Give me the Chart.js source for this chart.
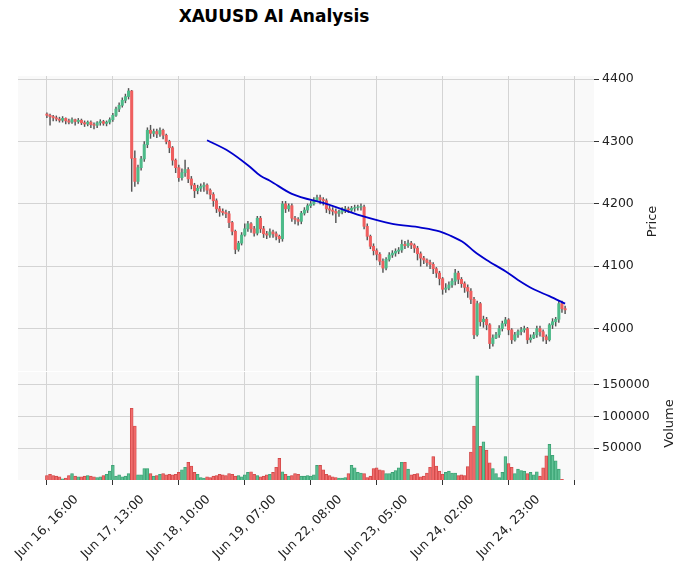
<!DOCTYPE html>
<html><head><meta charset="utf-8">
<script src="https://cdn.jsdelivr.net/npm/chart.js@4/dist/chart.umd.min.js"></script>
<style>
body{margin:0;width:686px;height:574px;background:#fff;position:relative;overflow:hidden;font-family:"DejaVu Sans",sans-serif}
#t{position:absolute;left:0;width:548px;top:6px;text-align:center;font-weight:bold;font-size:17px;color:#000}
canvas{position:absolute;left:0}
.yt{position:absolute;font-size:13px;color:#222;transform:rotate(-90deg);transform-origin:center;white-space:nowrap}
</style></head><body>
<div id="t">XAUUSD AI Analysis</div>
<canvas id="cp" style="top:0"></canvas>
<canvas id="cv" style="top:371px"></canvas>
<div class="yt" style="left:631px;top:214px;width:40px;text-align:center">Price</div>
<div class="yt" style="left:642px;top:416px;width:52px;text-align:center">Volume</div>
<script>
const tickLabels=["Jun 16, 16:00","Jun 17, 13:00","Jun 18, 10:00","Jun 19, 07:00","Jun 22, 08:00","Jun 23, 05:00","Jun 24, 02:00","Jun 24, 23:00",""];
const closes=[4342,4340,4338,4336,4334,4337,4333,4331,4335,4332,
4334,4330,4328,4331,4327,4326,4330,4332,4329,4331,
4335,4342,4352,4358,4366,4372,4381,4273,4236,4258,
4272,4295,4318,4313,4316,4312,4318,4310,4300,4290,
4270,4258,4242,4250,4255,4240,4230,4221,4225,4228,
4230,4222,4215,4205,4192,4188,4186,4184,4170,4156,
4127,4137,4150,4160,4168,4160,4153,4177,4160,4152,
4150,4155,4152,4148,4144,4200,4192,4197,4177,4175,
4172,4185,4190,4197,4200,4205,4210,4207,4205,4192,
4190,4188,4185,4187,4190,4192,4190,4193,4194,4195,
4195,4164,4148,4132,4125,4119,4108,4097,4111,4118,
4121,4124,4126,4135,4133,4137,4134,4129,4120,4113,
4110,4106,4103,4096,4089,4080,4063,4065,4070,4076,
4089,4079,4072,4066,4060,4047,3990,4040,4011,4015,
4006,3976,3985,3990,4000,4008,4014,3998,3982,3990,
3995,3998,4000,3982,3985,3990,4000,3995,3987,3982,
4006,4011,4015,4040,4032,4030];
const opens=[4344,4342,4340,4338,4336,4334,4337,4333,4331,4335,
4332,4334,4330,4328,4331,4327,4326,4330,4332,4329,
4331,4335,4342,4352,4358,4366,4372,4381,4273,4236,
4258,4272,4295,4318,4313,4316,4312,4318,4310,4300,
4290,4270,4258,4242,4250,4255,4240,4230,4221,4225,
4228,4230,4222,4215,4205,4192,4188,4186,4184,4170,
4156,4127,4137,4150,4160,4168,4160,4153,4177,4160,
4152,4150,4155,4152,4148,4144,4200,4192,4197,4177,
4175,4172,4185,4190,4197,4200,4205,4210,4207,4205,
4192,4190,4188,4185,4187,4190,4192,4190,4193,4194,
4195,4195,4164,4148,4132,4125,4119,4108,4097,4111,
4118,4121,4124,4126,4135,4133,4137,4134,4129,4120,
4113,4110,4106,4103,4096,4089,4080,4063,4065,4070,
4076,4089,4079,4072,4066,4060,4047,3990,4040,4011,
4015,4006,3976,3985,3990,4000,4008,4014,3998,3982,
3990,3995,3998,4000,3982,3985,3990,4000,3995,3987,
3982,4006,4011,4015,4040,4032];
const highs=[4346,4344,4342,4341,4339,4340,4338,4336,4338,4336,
4337,4336,4333,4333,4333,4330,4332,4335,4334,4333,
4338,4345,4355,4362,4370,4376,4385,4382,4285,4262,
4276,4300,4322,4326,4320,4320,4322,4320,4312,4302,
4292,4272,4262,4256,4270,4258,4244,4233,4230,4232,
4234,4232,4224,4218,4208,4196,4192,4190,4188,4172,
4158,4140,4154,4168,4172,4170,4164,4180,4180,4164,
4156,4160,4158,4155,4150,4204,4204,4200,4200,4180,
4178,4188,4194,4200,4204,4210,4214,4214,4210,4208,
4196,4194,4192,4190,4194,4196,4195,4196,4198,4198,
4200,4198,4168,4150,4136,4128,4122,4112,4114,4122,
4125,4128,4130,4142,4140,4142,4140,4136,4132,4123,
4116,4112,4110,4106,4098,4092,4082,4072,4075,4080,
4095,4092,4082,4075,4070,4064,4050,4044,4042,4020,
4018,4008,3990,3994,4005,4012,4018,4016,4000,3994,
3998,4002,4004,4002,3990,3994,4004,4004,3998,3990,
4008,4016,4018,4044,4044,4036];
const lows=[4338,4326,4333,4333,4331,4331,4328,4328,4329,4326,
4329,4327,4324,4325,4322,4320,4322,4326,4326,4325,
4328,4332,4340,4348,4355,4362,4368,4220,4228,4232,
4254,4268,4290,4305,4308,4306,4308,4304,4296,4282,
4262,4250,4236,4238,4244,4234,4224,4210,4216,4220,
4220,4216,4208,4196,4186,4180,4182,4178,4162,4150,
4120,4124,4134,4148,4156,4154,4148,4150,4154,4146,
4144,4146,4146,4142,4138,4140,4186,4188,4172,4168,
4166,4168,4182,4186,4194,4198,4204,4200,4198,4186,
4184,4182,4170,4180,4184,4186,4186,4186,4188,4190,
4190,4160,4142,4128,4118,4110,4102,4090,4094,4108,
4114,4116,4120,4122,4128,4130,4128,4122,4110,4100,
4104,4100,4096,4088,4082,4070,4055,4058,4062,4066,
4070,4072,4066,4058,4050,4040,3984,3988,4004,4002,
3998,3968,3972,3984,3986,3996,4004,3990,3976,3980,
3986,3990,3994,3976,3978,3984,3986,3988,3980,3976,
3980,4000,4004,4010,4026,4024];
const volumes=[7000,9000,7000,6000,5000,2000,3000,7000,10000,6000,
5000,5000,6000,7000,6000,5000,4000,5000,7000,9000,
14000,23000,6000,8000,5000,6000,10000,113000,85000,8000,
8000,18000,18000,10000,6000,7000,9000,10000,8000,9000,
8000,9000,12000,16000,20000,28000,22000,12000,9000,4000,
3000,5000,4000,6000,7000,9000,8000,7000,10000,9000,
6000,7000,5000,8000,12000,13000,9000,7000,5000,6000,
8000,9000,12000,20000,34000,13000,9000,6000,7000,10000,
9000,6000,6000,7000,6000,8000,23000,23000,16000,9000,
7000,5000,4000,3000,3000,4000,10000,23000,19000,12000,
11000,10000,4000,6000,18000,19000,16000,15000,10000,10000,
12000,15000,19000,28000,28000,17000,8000,9000,10000,5000,
6000,11000,20000,37000,22000,14000,9000,12000,14000,11000,
11000,7000,8000,7000,21000,44000,85000,164000,53000,60000,
47000,27000,18000,10000,4000,12000,37000,26000,20000,10000,
17000,15000,14000,10000,12000,8000,13000,6000,19000,38000,
56000,39000,30000,17000,1000,0];
const maIdx=[51,58,64,68,71,78,89,100,110,119,125,128,133,136,140,146,150,155,160,165];
const maVal=[4302,4284,4262,4245,4237,4216,4200,4181,4168,4162,4156,4150,4137,4124,4110,4092,4078,4063,4052,4040];

const UP='#4dba89', DN='#ef5f5f';
const col=closes.map((c,i)=>c>=opens[i]?UP:DN);
const X0=-9.2, X1=174.2, TICKS=tickLabels.map((_,i)=>i*21);
const bg={id:'bg',beforeDraw(c){const a=c.chartArea,x=c.ctx;x.save();x.fillStyle='#f9f9f9';x.fillRect(a.left,a.top,a.width,a.height);x.restore();}};
const xlab={id:'xlab',afterDraw(c){const x=c.ctx,s=c.scales.x;x.save();x.fillStyle='#222';x.font='12.5px "DejaVu Sans"';x.textAlign='center';x.textBaseline='middle';
 TICKS.forEach((v,k)=>{if(!tickLabels[k])return;const px=s.getPixelForValue(v);x.save();x.translate(px,c.chartArea.bottom+47);x.rotate(-Math.PI/4);x.fillText(tickLabels[k],0,0);x.restore();});x.restore();}};
const gridC='#d4d4d4';
function xAxis(show){return {type:'linear',min:X0,max:X1,offset:false,
 afterBuildTicks(s){s.ticks=TICKS.map(v=>({value:v}));},
 afterFit(s){s.height=show?94:0;s.paddingLeft=0;s.paddingRight=0;},
 grid:{color:gridC,offset:false,drawTicks:show,tickLength:5,tickColor:'#333'},border:{display:false},
 ticks:{display:false}};}
function yAxis(min,max,tv){return {position:'right',min,max,
 afterBuildTicks(s){s.ticks=tv.map(v=>({value:v}));},
 afterFit(s){s.width=92;s.paddingTop=0;s.paddingBottom=0;},
 grid:{color:gridC,drawTicks:true,tickLength:5,tickColor:'#333'},border:{display:false},
 ticks:{color:'#222',font:{size:12.5,family:'DejaVu Sans'},padding:3,callback:v=>String(v)}};}
const idx=closes.map((_,i)=>i);
const cp=document.getElementById('cp');cp.width=686;cp.height=371;
new Chart(cp,{type:'bar',plugins:[bg],
 data:{datasets:[
  {type:'line',data:maIdx.map((x,k)=>({x,y:maVal[k]})),borderColor:'#0000cc',borderWidth:1.8,pointRadius:0,cubicInterpolationMode:'monotone',order:0},
  {data:idx.map(i=>({x:i,y:[lows[i],highs[i]]})),backgroundColor:'#555',barThickness:0.8,grouped:false,order:2},
  {data:idx.map(i=>({x:i,y:[opens[i],closes[i]===opens[i]?closes[i]+0.8:closes[i]]})),backgroundColor:col,barThickness:2.4,grouped:false,order:1}
 ]},
 options:{responsive:false,animation:false,layout:{autoPadding:false,padding:{left:18,top:76,right:0,bottom:0}},
  plugins:{legend:{display:false},tooltip:{enabled:false}},
  scales:{x:xAxis(false),y:yAxis(3932,4405,[4000,4100,4200,4300,4400])}}});
const cv=document.getElementById('cv');cv.width=686;cv.height=203;
new Chart(cv,{type:'bar',plugins:[bg,xlab],
 data:{datasets:[{data:idx.map(i=>({x:i,y:volumes[i]})),backgroundColor:col.map(c=>c+'e0'),borderColor:col.map(c=>c===UP?'#3a9c70':'#c94444'),borderWidth:0.6,barThickness:2.9}]},
 options:{responsive:false,animation:false,layout:{autoPadding:false,padding:{left:18,top:1,right:0,bottom:0}},
  plugins:{legend:{display:false},tooltip:{enabled:false}},
  scales:{x:xAxis(true),y:yAxis(0,170000,[50000,100000,150000])}}});
</script></body></html>
